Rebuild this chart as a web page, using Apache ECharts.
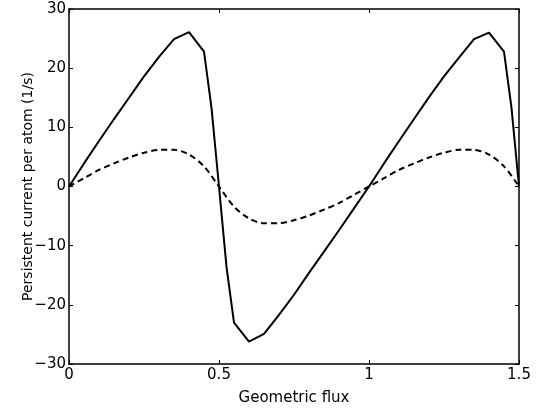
<!DOCTYPE html>
<html>
<head>
<meta charset="utf-8">
<script src="https://cdn.jsdelivr.net/npm/echarts@6/dist/echarts.min.js"></script>
<style>
html,body{margin:0;padding:0;background:#fff;}
#chart{width:544px;height:411px;}
</style>
</head>
<body>
<div id="chart"></div>
<script>
// Data
var xTickLabels = ['0', '0.5', '1', '1.5'];
var yTickLabels = ['−30', '−20', '−10', '0', '10', '20', '30'];

var solidX = [0, 0.05, 0.1, 0.15, 0.2, 0.25, 0.3, 0.35, 0.4, 0.45, 0.475, 0.5,
              0.525, 0.55, 0.6, 0.65, 0.7, 0.75, 0.8, 0.85, 0.9, 0.95, 1.0,
              1.05, 1.1, 1.15, 1.2, 1.25, 1.3, 1.35, 1.4, 1.45, 1.475, 1.5];
var solidY = [0, 3.9, 7.7, 11.4, 15.0, 18.6, 21.9, 24.9, 26.1, 22.8, 13.3, 0,
              -13.6, -23.0, -26.2, -24.9, -21.7, -18.3, -14.6, -11.0, -7.4, -3.7, 0,
              3.9, 7.7, 11.4, 15.1, 18.6, 21.8, 24.9, 26.0, 22.8, 13.3, 0];

var dashX = [0, 0.05, 0.1, 0.15, 0.2, 0.25, 0.3, 0.35, 0.4, 0.45, 0.5,
             0.55, 0.6, 0.65, 0.7, 0.75, 0.8, 0.85, 0.9, 0.95, 1.0,
             1.05, 1.1, 1.15, 1.2, 1.25, 1.3, 1.35, 1.4, 1.45, 1.5];
var dashY = [0, 1.4, 2.8, 3.9, 4.9, 5.7, 6.2, 6.2, 5.4, 3.4, 0,
             -3.4, -5.4, -6.2, -6.2, -5.7, -4.9, -3.9, -2.8, -1.4, 0,
             1.4, 2.8, 3.9, 4.9, 5.7, 6.2, 6.2, 5.4, 3.4, 0];

function pairs(xs, ys) {
  var out = [];
  for (var i = 0; i < xs.length; i++) out.push([xs[i], ys[i]]);
  return out;
}

var FONT = 'DejaVu Sans';
var chart = echarts.init(document.getElementById('chart'), null, {renderer: 'canvas'});

var lineStyleAxis = {color: '#000', width: 1.5};
var tickInside = {show: true, inside: true, length: 4, lineStyle: {color: '#000', width: 1}};

chart.setOption({
  animation: false,
  backgroundColor: '#fff',
  grid: {left: 69, right: 25, top: 9, bottom: 47, containLabel: false, outerBoundsMode: 'none'},
  xAxis: [{
    type: 'value', min: 0, max: 1.5, interval: 0.5, position: 'bottom',
    axisLine: {show: true, onZero: false, lineStyle: lineStyleAxis},
    axisTick: tickInside,
    splitLine: {show: false},
    axisLabel: {
      color: '#000', fontFamily: FONT, fontSize: 15, margin: 4,
      formatter: function (v) { return xTickLabels[Math.round(v / 0.5)]; }
    },
    name: 'Geometric flux', nameLocation: 'middle', nameGap: 27, nameMoveOverlap: false,
    nameTextStyle: {color: '#000', fontFamily: FONT, fontSize: 15}
  }, {
    type: 'value', min: 0, max: 1.5, interval: 0.5, position: 'top',
    axisLine: {show: true, onZero: false, lineStyle: lineStyleAxis},
    axisTick: tickInside, axisLabel: {show: false}, splitLine: {show: false}
  }],
  yAxis: [{
    type: 'value', min: -30, max: 30, interval: 10, position: 'left',
    axisLine: {show: true, onZero: false, lineStyle: lineStyleAxis},
    axisTick: tickInside,
    splitLine: {show: false},
    axisLabel: {
      color: '#000', fontFamily: FONT, fontSize: 15, margin: 3,
      formatter: function (v) { return yTickLabels[Math.round((v + 30) / 10)]; }
    },
    name: 'Persistent current per atom (1/s)', nameLocation: 'middle', nameGap: 34, nameMoveOverlap: false,
    nameTextStyle: {color: '#000', fontFamily: FONT, fontSize: 14}
  }, {
    type: 'value', min: -30, max: 30, interval: 10, position: 'right',
    axisLine: {show: true, onZero: false, lineStyle: lineStyleAxis},
    axisTick: tickInside, axisLabel: {show: false}, splitLine: {show: false}
  }],
  series: [{
    type: 'line', name: 'solid', xAxisIndex: 0, yAxisIndex: 0,
    data: pairs(solidX, solidY), showSymbol: false, symbol: 'none',
    lineStyle: {color: '#000', width: 2, type: 'solid'}, clip: false
  }, {
    type: 'line', name: 'dashed', xAxisIndex: 0, yAxisIndex: 0,
    data: pairs(dashX, dashY), showSymbol: false, symbol: 'none', smooth: 0.3,
    lineStyle: {color: '#000', width: 2, type: [6, 4]}, clip: false
  }]
});
</script>
</body>
</html>
